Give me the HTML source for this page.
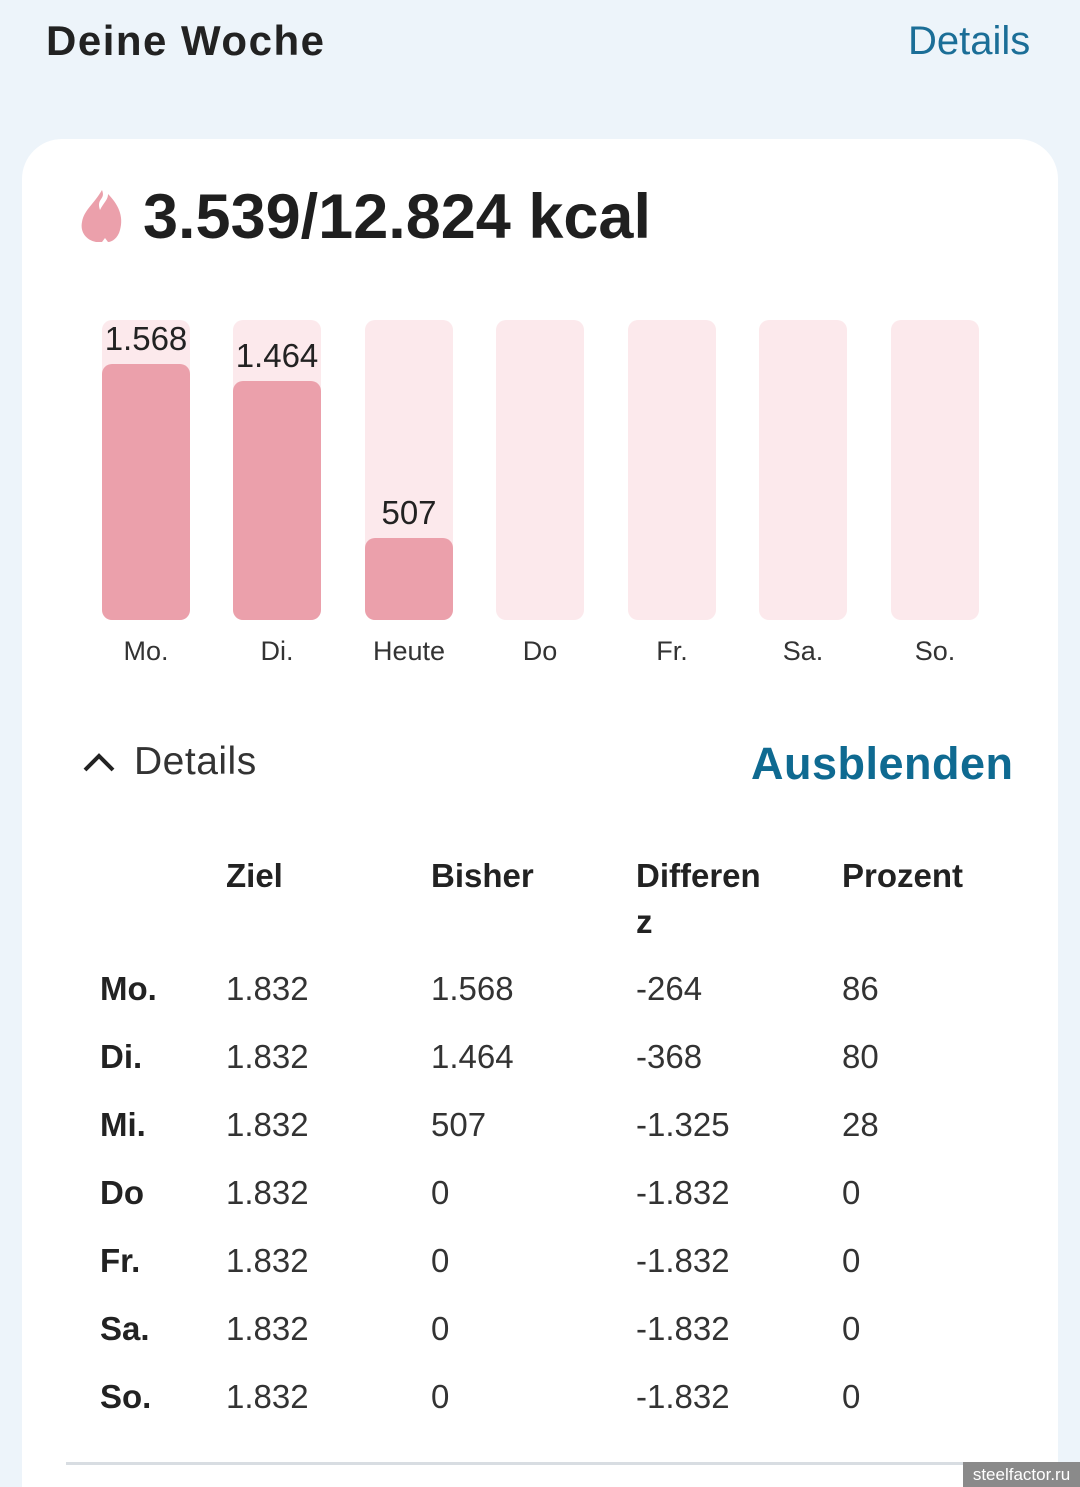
<!DOCTYPE html>
<html><head><meta charset="utf-8"><style>
*{margin:0;padding:0;box-sizing:border-box}
html,body{width:1080px;height:1487px;overflow:hidden}
body{background:#edf4fa;font-family:"Liberation Sans","DejaVu Sans",sans-serif;color:#1f1f1f;position:relative}
.a{position:absolute;white-space:nowrap}
.card{position:absolute;left:22px;top:139px;width:1036px;height:1348px;background:#fff;border-radius:40px 40px 0 0}
.track{position:absolute;top:320px;width:88px;height:300px;background:#fce9ec;border-radius:10px}
.fill{position:absolute;left:0;right:0;bottom:0;background:#eba0ab;border-radius:10px}
.v{position:absolute;width:120px;text-align:center;font-size:33px;color:#222}
.d{position:absolute;top:636px;width:120px;text-align:center;font-size:27px;color:#333}
.t{position:absolute;font-size:33px;color:#333}
.h{font-weight:bold;color:#222}
</style></head><body>
<div class="a" style="left:46px;top:17px;font-size:42px;font-weight:bold;color:#222;letter-spacing:1.5px">Deine Woche</div>
<div class="a" style="left:908px;top:19px;font-size:40px;color:#1b6e97">Details</div>
<div class="card"></div>
<svg class="a" style="left:80px;top:188px" width="44" height="56" viewBox="0 0 44 56"><path d="M22 2 C26 12 16 10 20 22 C24 14 28 12 28 6 C38 16 44 28 40 42 C38 50 32 54 28 54 L25 50 L22 54 L16 54 C6 52 0 44 2 34 C4 22 14 16 22 2Z" fill="#eba0ab"/></svg>
<div class="a" style="left:143px;top:181px;font-size:63px;font-weight:bold;color:#1f1f1f">3.539/12.824 kcal</div>

<div class="track" style="left:102px"><div class="fill" style="height:256px"></div></div>
<div class="track" style="left:233px"><div class="fill" style="height:239px"></div></div>
<div class="track" style="left:365px"><div class="fill" style="height:82px"></div></div>
<div class="track" style="left:496px"></div>
<div class="track" style="left:628px"></div>
<div class="track" style="left:759px"></div>
<div class="track" style="left:891px"></div>
<div class="v" style="left:86px;top:320px">1.568</div>
<div class="v" style="left:217px;top:337px">1.464</div>
<div class="v" style="left:349px;top:494px">507</div>
<div class="d" style="left:86px">Mo.</div>
<div class="d" style="left:217px">Di.</div>
<div class="d" style="left:349px">Heute</div>
<div class="d" style="left:480px">Do</div>
<div class="d" style="left:612px">Fr.</div>
<div class="d" style="left:743px">Sa.</div>
<div class="d" style="left:875px">So.</div>

<svg class="a" style="left:82px;top:750px" width="34" height="24"><path d="M3 20 L17 6 L31 20" stroke="#222" stroke-width="4" fill="none"/></svg>
<div class="a" style="left:134px;top:740px;font-size:39px;color:#333;letter-spacing:0.5px">Details</div>
<div class="a" style="left:751px;top:738px;font-size:45px;font-weight:bold;color:#0f6a91;letter-spacing:0.5px">Ausblenden</div>

<div class="t h" style="left:226px;top:857px">Ziel</div>
<div class="t h" style="left:431px;top:857px">Bisher</div>
<div class="t h" style="left:636px;top:857px">Differen</div>
<div class="t h" style="left:636px;top:903px">z</div>
<div class="t h" style="left:842px;top:857px">Prozent</div>

<div class="t h" style="left:100px;top:970px">Mo.</div><div class="t" style="left:226px;top:970px">1.832</div><div class="t" style="left:431px;top:970px">1.568</div><div class="t" style="left:636px;top:970px">-264</div><div class="t" style="left:842px;top:970px">86</div>
<div class="t h" style="left:100px;top:1038px">Di.</div><div class="t" style="left:226px;top:1038px">1.832</div><div class="t" style="left:431px;top:1038px">1.464</div><div class="t" style="left:636px;top:1038px">-368</div><div class="t" style="left:842px;top:1038px">80</div>
<div class="t h" style="left:100px;top:1106px">Mi.</div><div class="t" style="left:226px;top:1106px">1.832</div><div class="t" style="left:431px;top:1106px">507</div><div class="t" style="left:636px;top:1106px">-1.325</div><div class="t" style="left:842px;top:1106px">28</div>
<div class="t h" style="left:100px;top:1174px">Do</div><div class="t" style="left:226px;top:1174px">1.832</div><div class="t" style="left:431px;top:1174px">0</div><div class="t" style="left:636px;top:1174px">-1.832</div><div class="t" style="left:842px;top:1174px">0</div>
<div class="t h" style="left:100px;top:1242px">Fr.</div><div class="t" style="left:226px;top:1242px">1.832</div><div class="t" style="left:431px;top:1242px">0</div><div class="t" style="left:636px;top:1242px">-1.832</div><div class="t" style="left:842px;top:1242px">0</div>
<div class="t h" style="left:100px;top:1310px">Sa.</div><div class="t" style="left:226px;top:1310px">1.832</div><div class="t" style="left:431px;top:1310px">0</div><div class="t" style="left:636px;top:1310px">-1.832</div><div class="t" style="left:842px;top:1310px">0</div>
<div class="t h" style="left:100px;top:1378px">So.</div><div class="t" style="left:226px;top:1378px">1.832</div><div class="t" style="left:431px;top:1378px">0</div><div class="t" style="left:636px;top:1378px">-1.832</div><div class="t" style="left:842px;top:1378px">0</div>

<div class="a" style="left:66px;top:1462px;width:950px;height:3px;background:#d8dde2"></div>
<div class="a" style="left:963px;top:1462px;width:117px;height:25px;background:#8a8a8a;color:#fff;font-size:17px;line-height:25px;text-align:center">steelfactor.ru</div>
</body></html>
